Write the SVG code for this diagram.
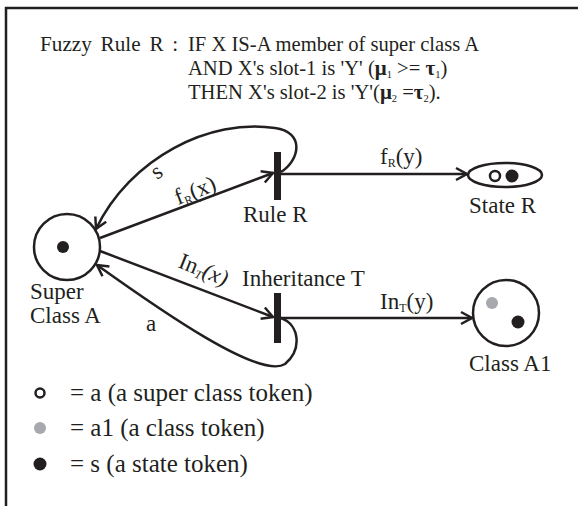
<svg xmlns="http://www.w3.org/2000/svg" width="578" height="506" viewBox="0 0 578 506">
<style>
text{font-family:"Liberation Serif","Times New Roman",serif;font-size:23px;fill:#231f20}
.ttl{font-size:20.6px}
.lg{font-size:25px}
.ln{stroke:#231f20;stroke-width:2.5;fill:none}
.bar{fill:#231f20}
.sym{font-weight:bold;font-size:21px}
.sub{font-size:10.5px}
.lsub{font-size:12px}
</style>
<defs>
<marker id="arr" markerUnits="userSpaceOnUse" markerWidth="16" markerHeight="16" refX="13" refY="8" orient="auto">
<path d="M2,2 L13,8 L2,14" fill="none" stroke="#231f20" stroke-width="2.5"/>
</marker>
</defs>
<rect width="578" height="506" fill="#fff"/>
<path d="M6,506 V8 H578" fill="none" stroke="#231f20" stroke-width="2.5"/>
<g id="title">
<text class="ttl" x="40" y="50.5"><tspan font-size="21.2" word-spacing="3.5">Fuzzy Rule R :</tspan><tspan x="188">IF X IS-A member of super class A</tspan></text>
<text class="ttl" x="188" y="75">AND X's slot-1 is 'Y' (<tspan class="sym">μ</tspan><tspan class="sub" dy="3">1</tspan><tspan dy="-3"> &gt;= </tspan><tspan class="sym">τ</tspan><tspan class="sub" dy="3">1</tspan><tspan dy="-3">)</tspan></text>
<text class="ttl" x="188" y="98.5">THEN X's slot-2 is 'Y'(<tspan class="sym">μ</tspan><tspan class="sub" dy="3">2</tspan><tspan dy="-3"> =</tspan><tspan class="sym">τ</tspan><tspan class="sub" dy="3">2</tspan><tspan dy="-3">).</tspan></text>
</g>
<g id="connectors">
<path class="ln" d="M100,238 L273,173" marker-end="url(#arr)"/>
<path class="ln" d="M281,172 C300,160 305,132 275,128 C210,118 130,158 96,229" marker-end="url(#arr)"/>
<path class="ln" d="M100,251 L273,317" marker-end="url(#arr)"/>
<path class="ln" d="M281,318 C300,325 302,350 285,364 C260,380 160,310 97,265" marker-end="url(#arr)"/>
<path class="ln" d="M281,174 L467,174" marker-end="url(#arr)"/>
<path class="ln" d="M281,318 L472,318" marker-end="url(#arr)"/>
<text x="157" y="180" transform="rotate(-35 157 180)">s</text>
<text x="178" y="205" transform="rotate(-21 178 205)">f<tspan class="lsub" dy="3">R</tspan><tspan dy="-3">(x)</tspan></text>
<text x="177" y="267" transform="rotate(22 177 267)">In<tspan class="lsub" dy="3" font-style="italic">T</tspan><tspan dy="-3" font-style="italic">(x)</tspan></text>
<text x="146" y="331">a</text>
<text x="380" y="164">f<tspan class="lsub" dy="3">R</tspan><tspan dy="-3">(y)</tspan></text>
<text x="380" y="309">In<tspan class="lsub" dy="3">T</tspan><tspan dy="-3">(y)</tspan></text>
</g>
<g id="superClassA">
<circle class="ln" cx="67" cy="247" r="33"/>
<circle cx="63" cy="247" r="6" fill="#231f20"/>
<text x="30" y="299">Super</text>
<text x="30" y="323">Class A</text>
</g>
<g id="ruleR">
<rect class="bar" x="274" y="152" width="7" height="48"/>
<text x="243" y="222">Rule R</text>
</g>
<g id="inheritanceT">
<rect class="bar" x="274" y="293" width="7" height="50"/>
<text x="242" y="286" font-size="23.5">Inheritance T</text>
</g>
<g id="stateR">
<ellipse class="ln" cx="505" cy="175" rx="37" ry="12"/>
<circle cx="495" cy="176" r="5" fill="#fff" stroke="#231f20" stroke-width="2.5"/>
<circle cx="512" cy="176" r="6.5" fill="#231f20"/>
<text x="469" y="213">State R</text>
</g>
<g id="classA1">
<circle class="ln" cx="506" cy="313" r="33"/>
<circle cx="492" cy="303" r="6" fill="#a7a9ac"/>
<circle cx="518" cy="322" r="6.5" fill="#231f20"/>
<text x="469" y="371" font-size="20.5">Class A1</text>
</g>
<g id="legend">
<circle cx="40" cy="393" r="4.5" fill="#fff" stroke="#231f20" stroke-width="2.5"/>
<text class="lg" x="70" y="401">= a (a super class token)</text>
<circle cx="40" cy="428" r="6" fill="#a7a9ac"/>
<text class="lg" x="70" y="436">= a1 (a class token)</text>
<circle cx="40" cy="464" r="6.5" fill="#231f20"/>
<text class="lg" x="70" y="472">= s (a state token)</text>
</g>
</svg>
